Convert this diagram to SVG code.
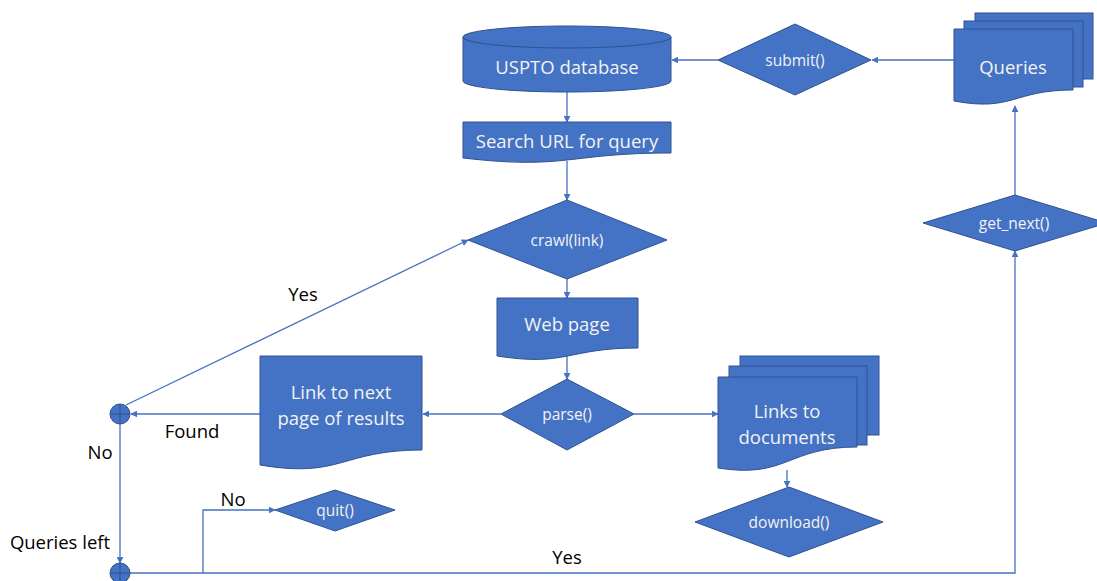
<svg xmlns="http://www.w3.org/2000/svg" width="1097" height="581" viewBox="0 0 1097 581">
  <style>
    .shape { fill: #4472C4; stroke: #2F528F; stroke-width: 1; }
    .node-text { fill: #F2F2F2; font-family: "Open Sans", "Noto Sans", sans-serif; text-anchor: middle; dominant-baseline: central; }
    .big { font-size: 18.5px; }
    .small { font-size: 15.5px; }
    .label { fill: #000; font-family: "Open Sans", "Noto Sans", sans-serif; font-size: 18.5px; text-anchor: middle; dominant-baseline: central; }
    .conn { fill: none; stroke: #4472C4; stroke-width: 1.3; }
    .arrow { marker-end: url(#head); }
    .cross { stroke: #2F528F; stroke-width: 1; }
  </style>
  <defs>
    <marker id="head" viewBox="0 0 10 10" refX="9" refY="5" markerWidth="7" markerHeight="7" markerUnits="userSpaceOnUse" orient="auto">
      <path d="M0,0 L10,5 L0,10 Z" fill="#4472C4"/>
    </marker>
  </defs>

  <!-- connectors -->
  <g id="connectors">
    <path class="conn arrow" d="M954,60 H872"/>
    <path class="conn arrow" d="M718,60 H672"/>
    <path class="conn arrow" d="M567,92 V122"/>
    <path class="conn arrow" d="M567,161 V200"/>
    <path class="conn arrow" d="M567,279 V298"/>
    <path class="conn arrow" d="M567,355 V379"/>
    <path class="conn arrow" d="M501,414 H423"/>
    <path class="conn arrow" d="M634,414 H718"/>
    <path class="conn arrow" d="M787,470 V487"/>
    <path class="conn arrow" d="M260,414 H131"/>
    <path class="conn arrow" d="M126,405 L468,240"/>
    <path class="conn arrow" d="M120,424 V563"/>
    <path class="conn" d="M130,573 H1015 V252"/>
    <path class="conn arrow" d="M1015,252 V251"/>
    <path class="conn arrow" d="M203,573 V510 H275"/>
    <path class="conn arrow" d="M1015,195 V106"/>
    <text class="label" x="303" y="293">Yes</text>
    <text class="label" x="192" y="430">Found</text>
    <text class="label" x="100" y="451">No</text>
    <text class="label" x="60" y="541">Queries left</text>
    <text class="label" x="233" y="498">No</text>
    <text class="label" x="567" y="556">Yes</text>
  </g>

  <!-- database cylinder -->
  <g id="uspto-database">
    <path class="shape" d="M463,37 V81 A104,11 0 0 0 671,81 V37"/>
    <ellipse class="shape" cx="567" cy="37" rx="104" ry="11"/>
    <text class="node-text big" x="567" y="66">USPTO database</text>
  </g>

  <g id="search-url">
    <path class="shape" d="M463,122 H671 V153 C567,153 567,170 463,158 Z"/>
    <text class="node-text big" x="567" y="140">Search URL for query</text>
  </g>

  <g id="submit">
    <path class="shape" d="M795,24 L871,60 L795,95 L718,60 Z"/>
    <text class="node-text small" x="795" y="60">submit()</text>
  </g>

  <g id="queries">
    <rect class="shape" x="975" y="13" width="118" height="66"/>
    <rect class="shape" x="964" y="21" width="119" height="66"/>
    <path class="shape" d="M954,29 H1073 V90 C1013,90 1013,112 954,101 Z"/>
    <text class="node-text big" x="1013" y="66">Queries</text>
  </g>

  <g id="get-next">
    <path class="shape" d="M1015,195 L1107,223 L1015,251 L923,223 Z"/>
    <text class="node-text small" x="1014" y="223">get_next()</text>
  </g>

  <g id="crawl">
    <path class="shape" d="M567,200 L667,240 L567,279 L468,240 Z"/>
    <text class="node-text small" x="567" y="240">crawl(link)</text>
  </g>

  <g id="web-page">
    <path class="shape" d="M497,298 H638 V348 C567,348 567,367 497,356 Z"/>
    <text class="node-text big" x="567" y="323">Web page</text>
  </g>

  <g id="parse">
    <path class="shape" d="M567,379 L634,414 L567,450 L501,414 Z"/>
    <text class="node-text small" x="567" y="414">parse()</text>
  </g>

  <g id="next-page-link">
    <path class="shape" d="M260,356 H422 V450 C341,450 341,479 260,465 Z"/>
    <text class="node-text big" x="341" y="391">Link to next</text>
    <text class="node-text big" x="341" y="417">page of results</text>
  </g>

  <g id="document-links">
    <rect class="shape" x="740" y="356" width="139" height="79"/>
    <rect class="shape" x="729" y="366" width="138" height="79"/>
    <path class="shape" d="M718,377 H857 V447 C787,447 787,479 718,468 Z"/>
    <text class="node-text big" x="787" y="410">Links to</text>
    <text class="node-text big" x="787" y="436">documents</text>
  </g>

  <g id="download">
    <path class="shape" d="M789,487 L883,522 L789,557 L695,522 Z"/>
    <text class="node-text small" x="789" y="522">download()</text>
  </g>

  <g id="quit">
    <path class="shape" d="M335,490 L395,510 L335,531 L275,510 Z"/>
    <text class="node-text small" x="335" y="510">quit()</text>
  </g>

  <g id="junction-found">
    <circle class="shape" cx="120" cy="414" r="10"/>
    <path class="cross" d="M110,414 H130 M120,404 V424"/>
  </g>

  <g id="junction-queries">
    <circle class="shape" cx="120" cy="573" r="10"/>
    <path class="cross" d="M110,573 H130 M120,563 V583"/>
  </g>
</svg>
